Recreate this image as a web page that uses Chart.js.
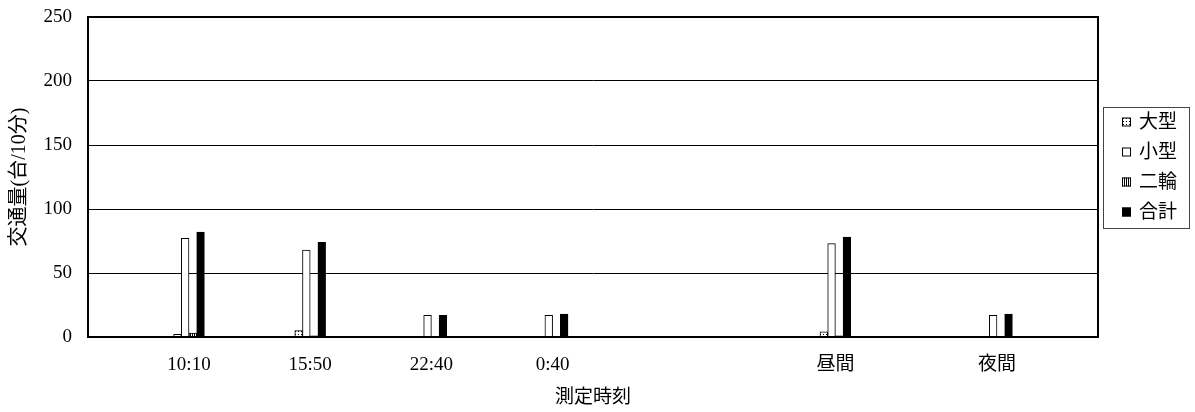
<!DOCTYPE html>
<html lang="ja">
<head>
<meta charset="utf-8">
<script src="https://cdn.jsdelivr.net/npm/chart.js@4.4.1/dist/chart.umd.min.js"></script>
<style>
  body { margin: 0; background: #fff; }
  #wrap { width: 1195px; height: 412px; position: relative; }
</style>
</head>
<body>
<div id="wrap"><canvas id="chart"></canvas></div>
<script>
// x axis slots, blank ones carry no measurement
const slotLabels = ["", "", "10:10", "", "", "15:50", "", "", "22:40", "", "", "0:40",
  "", "", "", "", "", "", "昼間", "", "", "", "夜間", "", ""];

// measured values (台/10分)
const measureTimes = ["10:10", "15:50", "22:40", "0:40", "昼間", "夜間"];
const largeCars = [2, 5, 0, 0, 4, 0];
const smallCars = [77, 68, 17, 17, 73, 17];
const twoWheel = [3, 1, 0, 0, 1, 0];
const totalCars = [82, 74, 17, 18, 78, 18];

const seriesNames = ["大型", "小型", "二輪", "合計"];

const FONT = '"Liberation Serif", "Noto Sans CJK JP", serif';

// put a short list onto the axis slots
function toSlots(values) {
  return slotLabels.map((label) => {
    const i = measureTimes.indexOf(label);
    return label !== "" && i >= 0 ? values[i] : null;
  });
}

function makePattern(w, h, draw) {
  const c = document.createElement("canvas");
  c.width = w;
  c.height = h;
  const g = c.getContext("2d");
  g.fillStyle = "#fff";
  g.fillRect(0, 0, w, h);
  g.fillStyle = "#000";
  draw(g);
  return g.createPattern(c, "repeat");
}

const dotFill = makePattern(3, 3, (g) => g.fillRect(1, 1, 1, 1));
const stripeFill = makePattern(2, 1, (g) => g.fillRect(0, 0, 1, 1));

const fills = [dotFill, "#fff", stripeFill, "#000"];
const seriesData = [largeCars, smallCars, twoWheel, totalCars];

// frame round the plot area
const plotFrame = {
  id: "plotFrame",
  afterDatasetsDraw(chart) {
    const { ctx, chartArea: a } = chart;
    ctx.save();
    ctx.strokeStyle = "#000";
    ctx.lineWidth = 2;
    ctx.strokeRect(a.left, a.top, a.right - a.left, a.bottom - a.top);
    ctx.restore();
  },
};

// legend in a box to the right of the plot
const boxLegend = {
  id: "boxLegend",
  afterDraw(chart) {
    const { ctx, chartArea: a } = chart;
    const left = a.right + 5;
    const top = 107;
    const rowH = 30;
    const sets = chart.data.datasets;
    ctx.save();
    ctx.strokeStyle = "#444";
    ctx.lineWidth = 1;
    ctx.strokeRect(left + 0.5, top + 0.5, 86, rowH * sets.length + 1);
    ctx.font = "19px " + FONT;
    ctx.textBaseline = "middle";
    ctx.fillStyle = "#000";
    sets.forEach((ds, i) => {
      const cy = top + 15 + i * rowH;
      ctx.fillStyle = ds.backgroundColor;
      ctx.fillRect(left + 19, cy - 4.5, 9, 9);
      ctx.strokeStyle = "#000";
      ctx.strokeRect(left + 19.5, cy - 4, 8, 8);
      ctx.fillStyle = "#000";
      ctx.fillText(ds.label, left + 36, cy + 1);
    });
    ctx.restore();
  },
};

new Chart(document.getElementById("chart"), {
  type: "bar",
  data: {
    labels: slotLabels,
    datasets: seriesNames.map((name, i) => ({
      label: name,
      data: toSlots(seriesData[i]),
      backgroundColor: fills[i],
      borderColor: "#000",
      borderWidth: 1,
      barThickness: 7.7,
    })),
  },
  options: {
    responsive: true,
    maintainAspectRatio: false,
    animation: false,
    devicePixelRatio: 1,
    layout: { padding: { top: 17, right: 97, bottom: 0, left: 0 } },
    plugins: {
      legend: { display: false },
      tooltip: { enabled: false },
    },
    scales: {
      x: {
        offset: true,
        grid: { display: false, drawTicks: false },
        border: { color: "#000", width: 2 },
        ticks: {
          autoSkip: false,
          maxRotation: 0,
          padding: 17,
          color: "#000",
          font: { family: FONT, size: 19 },
        },
        title: {
          display: true,
          text: "測定時刻",
          color: "#000",
          font: { family: FONT, size: 19 },
          padding: { top: 0, bottom: 3 },
        },
        afterFit(scale) {
          scale.height = 75;
        },
      },
      y: {
        min: 0,
        max: 250,
        ticks: {
          stepSize: 50,
          padding: 16,
          color: "#000",
          font: { family: FONT, size: 19 },
        },
        grid: { color: "#000", lineWidth: 1, drawTicks: false },
        border: { color: "#000", width: 2 },
        title: {
          display: true,
          text: "交通量(台/10分)",
          color: "#000",
          font: { family: FONT, size: 20 },
          padding: { top: 8, bottom: 0 },
        },
        afterFit(scale) {
          // fixed axis width, no extra room above/below for tick labels
          scale.width = 88;
          scale.paddingTop = 0;
          scale.paddingBottom = 0;
        },
      },
    },
  },
  plugins: [plotFrame, boxLegend],
});
</script>
</body>
</html>
